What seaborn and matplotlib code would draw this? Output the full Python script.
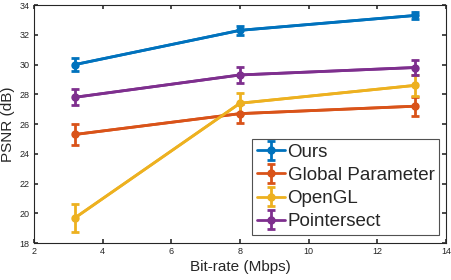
import matplotlib
matplotlib.use("Agg")
import matplotlib.pyplot as plt
import seaborn as sns
import pandas as pd

# 数据
bitrate = [3.2, 8.0, 13.1]
methods = ["Ours", "Global Parameter", "OpenGL", "Pointersect"]
psnr_ours = [30.0, 32.3, 33.3]
err_ours = [0.45, 0.3, 0.25]
psnr_global = [25.3, 26.7, 27.2]
err_global = [0.7, 0.65, 0.65]
psnr_opengl = [19.7, 27.4, 28.6]
err_opengl = [0.95, 0.7, 0.7]
psnr_pointersect = [27.8, 29.3, 29.8]
err_pointersect = [0.55, 0.55, 0.5]

colors = ["#0072BD", "#D95319", "#EDB120", "#7E2F8E"]

df = pd.DataFrame({
    "bitrate": bitrate * 4,
    "psnr": psnr_ours + psnr_global + psnr_opengl + psnr_pointersect,
    "err": err_ours + err_global + err_opengl + err_pointersect,
    "method": [m for m in methods for _ in bitrate],
})

sns.set_theme(style="ticks")
plt.rcParams["font.family"] = ["Liberation Sans", "DejaVu Sans"]

fig = plt.figure(figsize=(4.52, 2.80), dpi=100)
ax = fig.add_axes([0.075, 0.132, 0.912, 0.85])

sns.lineplot(data=df, x="bitrate", y="psnr", hue="method", hue_order=methods,
             palette=colors, marker="o", markersize=5, markeredgewidth=0,
             linewidth=2, ax=ax, legend=False)

handles = []
for m, c in zip(methods, colors):
    sub = df[df["method"] == m]
    h = ax.errorbar(sub["bitrate"], sub["psnr"], yerr=sub["err"], color=c,
                    linewidth=2, elinewidth=2, capsize=3, capthick=2,
                    marker="o", markersize=5, label=m)
    handles.append(h)

ax.set_xlim(2, 14)
ax.set_ylim(18, 34)
ax.set_xticks(range(2, 15, 2))
ax.set_yticks(range(18, 35, 2))
ax.tick_params(direction="in", labelsize=6.5, top=True, right=True,
               length=3, color="#333333", labelcolor="#262626", pad=3)
for s in ax.spines.values():
    s.set_color("#262626")
    s.set_linewidth(0.8)
ax.set_xlabel("Bit-rate (Mbps)", fontsize=11, color="#262626", labelpad=3)
ax.set_ylabel("PSNR (dB)", fontsize=11, color="#262626", labelpad=3)

leg = ax.legend(handles=handles, labels=methods, loc="upper left",
                bbox_to_anchor=(252 / 452, 1 - 139 / 280), bbox_transform=fig.transFigure,
                fontsize=13.5, frameon=True, fancybox=False, borderpad=0.25,
                handlelength=1.5, handletextpad=0.15, labelspacing=0.32,
                borderaxespad=0)
leg.get_frame().set_edgecolor("#262626")
leg.get_frame().set_linewidth(0.8)

fig.savefig("out.png", dpi=100)
